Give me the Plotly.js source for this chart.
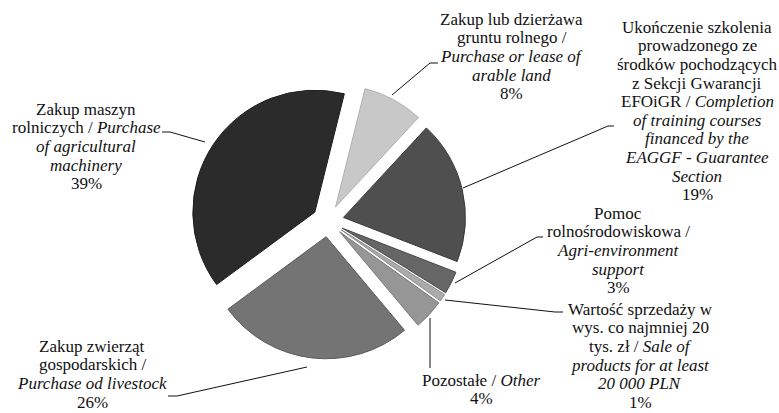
<!DOCTYPE html>
<html><head><meta charset="utf-8">
<script src="https://cdn.plot.ly/plotly-3.0.1.min.js"></script>
<style>html,body{margin:0;padding:0;background:#fff}#chart{width:779px;height:413px}
#chart .annotation-text, #chart .annotation-text tspan{font-family:"Liberation Serif","Times New Roman",Times,"DejaVu Serif",serif !important;}</style>
</head><body><div id="chart"></div>
<script>
// ---- data ----
const categories = [
  "Zakup lub dzierżawa gruntu rolnego / Purchase or lease of arable land",
  "Ukończenie szkolenia prowadzonego ze środków pochodzących z Sekcji Gwarancji EFOiGR / Completion of training courses financed by the EAGGF - Guarantee Section",
  "Pomoc rolnośrodowiskowa / Agri-environment support",
  "Wartość sprzedaży w wys. co najmniej 20 tys. zł / Sale of products for at least 20 000 PLN",
  "Pozostałe / Other",
  "Zakup zwierząt gospodarskich / Purchase od livestock",
  "Zakup maszyn rolniczych / Purchase of agricultural machinery"
];
const shares = [8, 19, 3, 1, 4, 26, 39];
const labelLines = [
  ["Zakup lub dzierżawa", "gruntu rolnego /", "<i>Purchase or lease of</i>", "<i>arable land</i>"],
  ["Ukończenie szkolenia", "prowadzonego ze", "środków pochodzących", "z Sekcji Gwarancji", "EFOiGR / <i>Completion</i>", "<i>of training courses</i>", "<i>financed by the</i>", "<i>EAGGF - Guarantee</i>", "<i>Section</i>"],
  ["Pomoc", "rolnośrodowiskowa /", "<i>Agri-environment</i>", "<i>support</i>"],
  ["Wartość sprzedaży w", "wys. co najmniej 20", "tys. zł / <i>Sale of</i>", "<i>products for at least</i>", "<i>20 000 PLN</i>"],
  ["Pozostałe / <i>Other</i>"],
  ["Zakup zwierząt", "gospodarskich /", "<i>Purchase od livestock</i>"],
  ["Zakup maszyn", "rolniczych / <i>Purchase</i>", "<i>of agricultural</i>", "<i>machinery</i>"]
];
const sliceColors = ["#c8c8c8", "#4f4f4f", "#666666", "#ababab", "#969696", "#747474", "#2b2b2b"];
const edgeColors  = ["#b0b0b0", "#3a3a3a", "#4a4a4a", "#8a8a8a", "#7a7a7a", "#5a5a5a", "#1e1e1e"];

// ---- layout (pixel positions) ----
const W = 779, H = 413;
const px = x => x / W, py = y => 1 - y / H;
const labelCX = [512, 697, 618, 640, 481, 92, 86];
const labelTop = [25, 33, 219, 315, 386, 352, 115]; // first baseline
const LS = 18.6, FS = 17;
const FONT = "Liberation Serif, Times New Roman, serif";
const leaders = [
  [[392,95],[430,63],[438,63]],
  [[463,188],[608,126],[614,126]],
  [[455,283],[537,237],[543,237]],
  [[445,300],[555,312],[563,312]],
  [[430,318],[430,368]],
  [[307,367],[177,396],[168,396]],
  [[205,142],[170,132],[162,132]]
];
const pieCX = 328, pieCY = 221, pieR = 122, pullFrac = 0.13;
const half = pieR * (1 + pullFrac);

const annotations = [];
labelLines.forEach((lines, i) => {
  const all = lines.concat([shares[i] + "%"]);
  all.forEach((t, j) => {
    annotations.push({
      x: px(labelCX[i]), y: py(labelTop[i] + j * LS - 5.7),
      xref: "paper", yref: "paper", xanchor: "center", yanchor: "middle",
      text: t, showarrow: false, borderpad: 0,
      font: {family: FONT, size: FS, color: "#111"}
    });
  });
});

const shapes = leaders.map(pts => ({
  type: "path", xref: "paper", yref: "paper",
  path: pts.map((p, k) => (k ? "L" : "M") + px(p[0]) + "," + py(p[1])).join(" "),
  line: {color: "#111", width: 1}
}));

const trace = {
  type: "pie",
  values: shares,
  labels: categories,
  sort: false,
  direction: "clockwise",
  rotation: 14,
  pull: shares.map(() => pullFrac),
  textinfo: "none",
  hoverinfo: "label+percent",
  marker: {colors: sliceColors, line: {color: edgeColors, width: 1}},
  domain: {x: [px(pieCX - half), px(pieCX + half)], y: [py(pieCY + half), py(pieCY - half)]},
  showlegend: false
};

Plotly.newPlot("chart", [trace], {
  width: W, height: H,
  margin: {l: 0, r: 0, t: 0, b: 0},
  paper_bgcolor: "#fff",
  font: {family: FONT},
  showlegend: false,
  annotations: annotations,
  shapes: shapes
}, {staticPlot: true});
</script></body></html>
